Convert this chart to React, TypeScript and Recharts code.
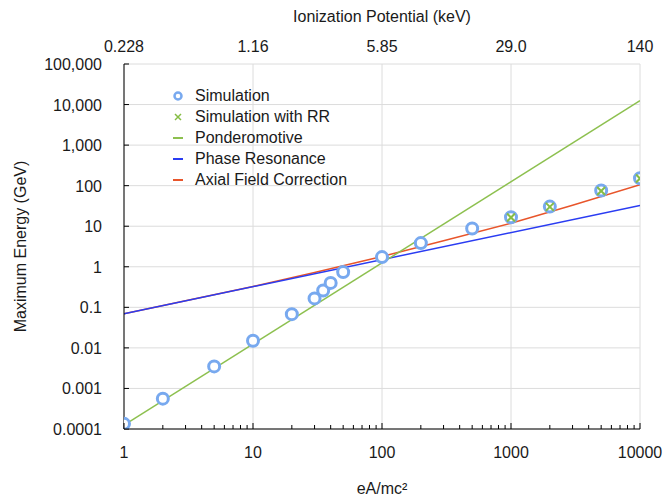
import { ComposedChart, Line, Scatter, XAxis, YAxis, CartesianGrid, Label } from 'recharts';

// eA/mc^2 values of the simulation runs
const simX = [1, 2, 5, 10, 20, 30, 35, 40, 50, 100, 200, 500, 1000, 2000, 5000, 10000];
const simY = [0.000134, 0.00056, 0.0035, 0.015, 0.068, 0.166, 0.26, 0.4, 0.74, 1.73, 3.84, 8.8, 16.7, 30.5, 75.8, 153];

// runs with radiation reaction
const rrX = [1000, 2000, 5000, 10000];
const rrY = [16.4, 30, 74, 150];

// scaling laws (straight on log-log, so the end points are enough)
const pondX = [1, 10000];
const pondY = [0.000125, 12500];
const phaseX = [1, 10000];
const phaseY = [0.0695, 32.4];

// axial field correction bends away from phase resonance
const axialX = [1, 3, 10, 30, 100, 300, 1000, 3000, 10000];
const axialY = [0.0697, 0.146, 0.327, 0.72, 1.79, 4.4, 11.9, 33, 105];

const decadeTicks = [1, 10, 100, 1000, 10000];
const minorTicks = [2, 3, 4, 5, 6, 7, 8, 9, 20, 30, 40, 50, 60, 70, 80, 90, 200, 300, 400, 500, 600, 700, 800, 900, 2000, 3000, 4000, 5000, 6000, 7000, 8000, 9000];
const ionizationLabels = ['0.228', '1.16', '5.85', '29.0', '140'];
const yTicks = [0.0001, 0.001, 0.01, 0.1, 1, 10, 100, 1000, 10000, 100000];

const toPoints = (xs: number[], ys: number[]) => xs.map((x, i) => ({ x, y: ys[i] }));

const simData = toPoints(simX, simY);
const rrData = toPoints(rrX, rrY);
const pondData = toPoints(pondX, pondY);
const phaseData = toPoints(phaseX, phaseY);
const axialData = toPoints(axialX, axialY);

const FONT = '"Liberation Sans", Arial, Helvetica, sans-serif';
const TEXT = '#1a1a1a';
const SIM_BLUE = '#78a9ef';
const RR_GREEN = '#86bd45';
const POND_GREEN = '#8dc04f';
const PHASE_BLUE = '#2a3cf2';
const AXIAL_RED = '#e8552b';

const fmtY = (v: number) => (v >= 1 ? v.toLocaleString('en-US') : String(v));

const BottomTick = (props: any) => {
  const { x, y, payload } = props;
  const major = decadeTicks.includes(payload.value);
  return (
    <g>
      <line x1={x} x2={x} y1={y} y2={y - (major ? 6 : 4)} stroke="#000" strokeWidth={1} />
      {major && (
        <text x={x} y={y + 29} textAnchor="middle" fontSize={16} fontFamily={FONT} fill={TEXT}>
          {payload.value}
        </text>
      )}
    </g>
  );
};

const TopTick = (props: any) => {
  const { x, y, payload } = props;
  const idx = decadeTicks.indexOf(payload.value);
  return (
    <text x={x} y={y - 12} textAnchor="middle" fontSize={16} fontFamily={FONT} fill={TEXT}>
      {ionizationLabels[idx]}
    </text>
  );
};

const LeftTick = (props: any) => {
  const { x, y, payload } = props;
  return (
    <g>
      <line x1={x} x2={x + 5} y1={y} y2={y} stroke="#000" strokeWidth={1} />
      <text x={x - 22} y={y + 6} textAnchor="end" fontSize={16} fontFamily={FONT} fill={TEXT}>
        {fmtY(payload.value)}
      </text>
    </g>
  );
};

const Ring = (props: any) => (
  <circle cx={props.cx} cy={props.cy} r={5.5} fill="#fff" stroke={SIM_BLUE} strokeWidth={3} />
);

const Cross = (props: any) => {
  const { cx, cy } = props;
  const s = 4;
  return (
    <g stroke={RR_GREEN} strokeWidth={2}>
      <line x1={cx - s} y1={cy - s} x2={cx + s} y2={cy + s} />
      <line x1={cx - s} y1={cy + s} x2={cx + s} y2={cy - s} />
    </g>
  );
};

const legendItems = [
  { name: 'Simulation', kind: 'ring', color: SIM_BLUE },
  { name: 'Simulation with RR', kind: 'cross', color: RR_GREEN },
  { name: 'Ponderomotive', kind: 'line', color: POND_GREEN },
  { name: 'Phase Resonance', kind: 'line', color: PHASE_BLUE },
  { name: 'Axial Field Correction', kind: 'line', color: AXIAL_RED },
];

function LegendBox() {
  return (
    <div style={{ position: 'absolute', left: 170, top: 86, fontFamily: FONT, fontSize: 16, color: TEXT }}>
      {legendItems.map((it) => (
        <div key={it.name} style={{ display: 'flex', alignItems: 'center', height: 20.8 }}>
          <svg width={25} height={14} style={{ flex: 'none' }}>
            {it.kind === 'ring' && <circle cx={8} cy={7} r={3.5} fill="#fff" stroke={it.color} strokeWidth={2.5} />}
            {it.kind === 'cross' && (
              <g stroke={it.color} strokeWidth={1.5}>
                <line x1={5} y1={4} x2={11} y2={10} />
                <line x1={5} y1={10} x2={11} y2={4} />
              </g>
            )}
            {it.kind === 'line' && <line x1={3} x2={13} y1={7} y2={7} stroke={it.color} strokeWidth={2} />}
          </svg>
          <span style={{ whiteSpace: 'nowrap' }}>{it.name}</span>
        </div>
      ))}
    </div>
  );
}

export default function App() {
  return (
    <div style={{ position: 'absolute', left: 0, top: 0, width: 664, height: 499, background: '#fff' }}>
      <ComposedChart width={664} height={499} margin={{ top: 0, right: 24, bottom: 0, left: 0 }}>
        <CartesianGrid xAxisId="top" yAxisId="left" stroke="#dcdcdc" strokeWidth={1} />
        <XAxis
          xAxisId="bottom"
          dataKey="x"
          type="number"
          scale="log"
          domain={[1, 10000]}
          allowDataOverflow
          ticks={[...decadeTicks, ...minorTicks]}
          interval={0}
          tick={<BottomTick />}
          tickSize={0}
          tickMargin={0}
          tickLine={false}
          axisLine={{ stroke: '#000', strokeWidth: 1 }}
          height={70}
        >
          <Label
            content={(p: any) => (
              <text x={p.viewBox.x + p.viewBox.width / 2} y={p.viewBox.y + 65} textAnchor="middle" fontSize={16} fontFamily={FONT} fill={TEXT}>
                eA/mc²
              </text>
            )}
          />
        </XAxis>
        <XAxis
          xAxisId="top"
          orientation="top"
          dataKey="x"
          type="number"
          scale="log"
          domain={[1, 10000]}
          allowDataOverflow
          ticks={decadeTicks}
          interval={0}
          tick={<TopTick />}
          tickSize={0}
          tickMargin={0}
          tickLine={false}
          axisLine={false}
          height={64}
        >
          <Label
            content={(p: any) => (
              <text x={p.viewBox.x + p.viewBox.width / 2} y={p.viewBox.y + 22} textAnchor="middle" fontSize={16} fontFamily={FONT} fill={TEXT}>
                Ionization Potential (keV)
              </text>
            )}
          />
        </XAxis>
        <YAxis
          yAxisId="left"
          dataKey="y"
          type="number"
          scale="log"
          domain={[0.0001, 100000]}
          allowDataOverflow
          ticks={yTicks}
          interval={0}
          tick={<LeftTick />}
          tickSize={0}
          tickMargin={0}
          tickLine={false}
          axisLine={{ stroke: '#000', strokeWidth: 1 }}
          width={124}
        >
          <Label
            content={(p: any) => {
              const cx = p.viewBox.x + 20;
              const cy = p.viewBox.y + p.viewBox.height / 2;
              return (
                <text x={cx} y={cy} transform={`rotate(-90 ${cx} ${cy})`} textAnchor="middle" dominantBaseline="central" fontSize={16} fontFamily={FONT} fill={TEXT}>
                  Maximum Energy (GeV)
                </text>
              );
            }}
          />
        </YAxis>
        <Line xAxisId="bottom" yAxisId="left" data={axialData} dataKey="y" type="linear" stroke={AXIAL_RED} strokeWidth={1.5} dot={false} activeDot={false} isAnimationActive={false} />
        <Line xAxisId="bottom" yAxisId="left" data={phaseData} dataKey="y" type="linear" stroke={PHASE_BLUE} strokeWidth={1.5} dot={false} activeDot={false} isAnimationActive={false} />
        <Line xAxisId="bottom" yAxisId="left" data={pondData} dataKey="y" type="linear" stroke={POND_GREEN} strokeWidth={1.5} dot={false} activeDot={false} isAnimationActive={false} />
        <Scatter xAxisId="bottom" yAxisId="left" data={simData} dataKey="y" shape={<Ring />} isAnimationActive={false} />
        <Scatter xAxisId="bottom" yAxisId="left" data={rrData} dataKey="y" shape={<Cross />} isAnimationActive={false} />
      </ComposedChart>
      <LegendBox />
    </div>
  );
}
